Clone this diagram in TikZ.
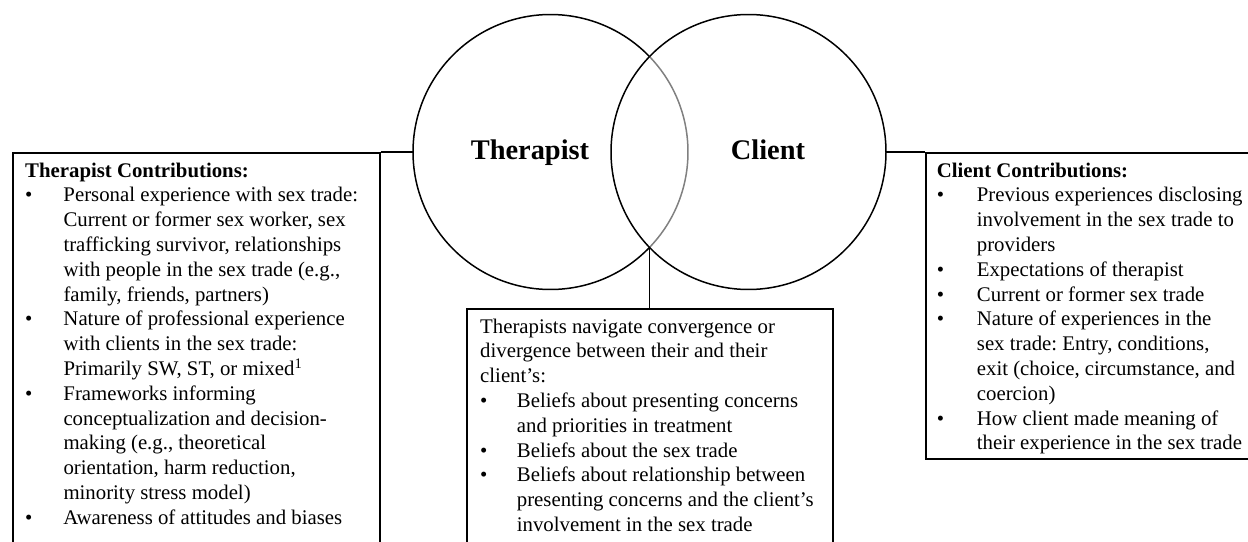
\documentclass[tikz,border=0pt]{standalone}
\usepackage{fontspec}
\setmainfont{Liberation Serif}
\usepackage{array}
\frenchspacing
\begin{document}
\begin{tikzpicture}[x=1pt,y=-1pt,
  rule/.style={line width=1.5pt},
  panel/.style={draw, rule, rectangle, anchor=north west, inner sep=0pt},
  listtext/.style={anchor=north west, inner sep=0pt, align=left,
    font=\fontsize{20.8}{24.8}\selectfont},
  ring/.style={circle, minimum size=275pt, inner sep=0pt},
  ringlabel/.style={anchor=base, font=\fontsize{28.4}{32}\selectfont\bfseries}]

\useasboundingbox (0,0) rectangle (1248,541);
\clip (0,0) rectangle (1248,541);

% the two overlapping circles
\node[ring] (ther) at (550.5,152) {};
\node[ring] (cli)  at (748.5,152) {};
\coordinate (meet) at (649.5,247.4);
\draw[rule] (ther.center) ++(43.94:137.5) arc[start angle=43.94, end angle=316.06, radius=137.5];
\draw[rule, black!50] (ther.center) ++(-43.94:137.5) arc[start angle=-43.94, end angle=43.94, radius=137.5];
\draw[rule] (cli.center) ++(-136.06:137.5) arc[start angle=-136.06, end angle=136.06, radius=137.5];
\draw[rule] (cli.center) ++(136.06:137.5) arc[start angle=136.06, end angle=223.94, radius=137.5];

\node[ringlabel] (therlbl) at (530,159.3) {Therapist};
\node[ringlabel] (clilbl)  at (768,159.3) {Client};

% panels
\node[panel, minimum width=367pt, minimum height=420pt] (lbox) at (12,152) {};
\node[panel, minimum width=366pt, minimum height=260pt] (mbox) at (466,308) {};
\node[panel, minimum width=340pt, minimum height=306pt] (rbox) at (925,152) {};

% connectors
\draw[rule] (lbox.north east) -- (ther.west);
\draw[rule] (meet) -- (mbox.north -| meet);
\draw[rule] (cli.east) -- (rbox.north west);

% panel texts
\node[listtext] (ltext) at (25,159.6) {%
\begin{tabular}{@{}p{38.3pt}@{}l@{}}
\multicolumn{2}{@{}l@{}}{\bfseries Therapist Contributions:}\\
\textbullet & Personal experience with sex trade:\\
 & Current or former sex worker, sex\\
 & trafficking survivor, relationships\\
 & with people in the sex trade (e.g.,\\
 & family, friends, partners)\\
\textbullet & Nature of professional experience\\
 & with clients in the sex trade:\\
 & Primarily SW, ST, or mixed\textsuperscript{1}\\
\textbullet & Frameworks informing\\
 & conceptualization and decision-\\
 & making (e.g., theoretical\\
 & orientation, harm reduction,\\
 & minority stress model)\\
\textbullet & Awareness of attitudes and biases
\end{tabular}};

\node[listtext] (mtext) at (480,315.6) {%
\begin{tabular}{@{}p{36.7pt}@{}l@{}}
\multicolumn{2}{@{}l@{}}{Therapists navigate convergence or}\\
\multicolumn{2}{@{}l@{}}{divergence between their and their}\\
\multicolumn{2}{@{}l@{}}{client’s:}\\
\textbullet & Beliefs about presenting concerns\\
 & and priorities in treatment\\
\textbullet & Beliefs about the sex trade\\
\textbullet & Beliefs about relationship between\\
 & presenting concerns and the client’s\\
 & involvement in the sex trade
\end{tabular}};

\node[listtext] (rtext) at (936.7,159.6) {%
\begin{tabular}{@{}p{40pt}@{}l@{}}
\multicolumn{2}{@{}l@{}}{\bfseries Client Contributions:}\\
\textbullet & Previous experiences disclosing\\
 & involvement in the sex trade to\\
 & providers\\
\textbullet & Expectations of therapist\\
\textbullet & Current or former sex trade\\
\textbullet & Nature of experiences in the\\
 & sex trade: Entry, conditions,\\
 & exit (choice, circumstance, and\\
 & coercion)\\
\textbullet & How client made meaning of\\
 & their experience in the sex trade
\end{tabular}};
\end{tikzpicture}
\end{document}
